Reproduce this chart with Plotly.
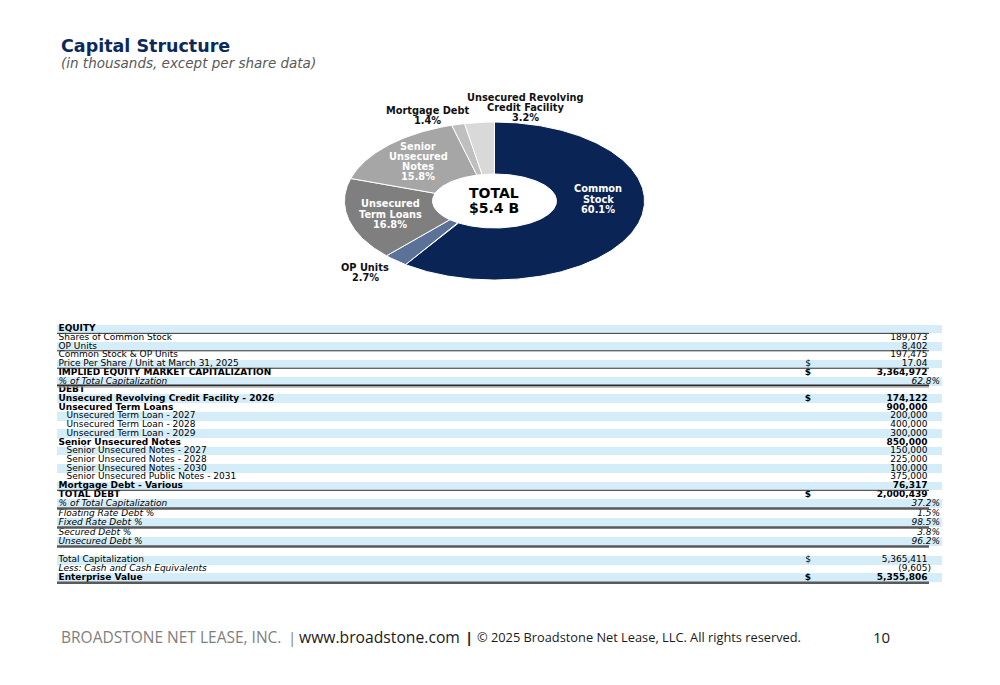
import numpy as np
import plotly.graph_objects as go

# ---------------- Pie data ----------------
slice_names = ["Common Stock", "OP Units", "Unsecured Term Loans",
               "Senior Unsecured Notes", "Mortgage Debt",
               "Unsecured Revolving Credit Facility"]
slice_pct = [60.1, 2.7, 16.8, 15.8, 1.4, 3.2]
slice_colors = ["#0a2456", "#5b7198", "#7f7f7f", "#a6a6a6", "#bfbfbf", "#d9d9d9"]
slice_label_lines = [["Common", "Stock"], ["OP Units"], ["Unsecured", "Term Loans"],
                     ["Senior", "Unsecured", "Notes"], ["Mortgage Debt"],
                     ["Unsecured Revolving", "Credit Facility"]]
center_text = ["TOTAL", "$5.4 B"]

# ---------------- Table data ----------------
row_labels = [
    "EQUITY",
    "Shares of Common Stock",
    "OP Units",
    "Common Stock & OP Units",
    "Price Per Share / Unit at March 31, 2025",
    "IMPLIED EQUITY MARKET CAPITALIZATION",
    "% of Total Capitalization",
    "DEBT",
    "Unsecured Revolving Credit Facility - 2026",
    "Unsecured Term Loans",
    "Unsecured Term Loan - 2027",
    "Unsecured Term Loan - 2028",
    "Unsecured Term Loan - 2029",
    "Senior Unsecured Notes",
    "Senior Unsecured Notes - 2027",
    "Senior Unsecured Notes - 2028",
    "Senior Unsecured Notes - 2030",
    "Senior Unsecured Public Notes - 2031",
    "Mortgage Debt - Various",
    "TOTAL DEBT",
    "% of Total Capitalization",
    "Floating Rate Debt %",
    "Fixed Rate Debt %",
    "Secured Debt %",
    "Unsecured Debt %",
    "",
    "Total Capitalization",
    "Less: Cash and Cash Equivalents",
    "Enterprise Value",
]
row_dollar = ["", "", "", "", "$", "$", "", "", "$", "", "", "", "", "", "", "", "",
              "", "", "$", "", "", "", "", "", "", "$", "", "$"]
row_values = ["", "189,073", "8,402", "197,475", "17.04", "3,364,972", "62.8%", "",
              "174,122", "900,000", "200,000", "400,000", "300,000", "850,000",
              "150,000", "225,000", "100,000", "375,000", "76,317", "2,000,439",
              "37.2%", "1.5%", "98.5%", "3.8%", "96.2%", "", "5,365,411", "(9,605)",
              "5,355,806"]
row_style = ["b", "n", "n", "n", "n", "b", "i", "b", "b", "b", "s", "s", "s", "b", "s",
             "s", "s", "s", "b", "b", "i", "i", "i", "i", "i", "n", "n", "i", "b"]
row_rule = ["thin", "", "thin", "", "thin", "", "double", "", "", "", "", "", "", "",
            "", "", "", "", "thin", "", "thick", "", "thick", "", "thick", "", "", "",
            "thick"]

# ---------------- Layout constants ----------------
W, H = 1000, 685
FONT = "DejaVu Sans"
NAVY = "#0b2a5b"
BAND = "#d4edf9"

fig = go.Figure()

# ---- Donut drawn on a pixel-scaled axis (elliptical like the slide) ----
cx, cy, RA, RB, ra, rb = 494.5, 201.0, 150.0, 79.0, 62.0, 27.0
fr = np.concatenate([[0.0], np.cumsum(slice_pct)]) / float(np.sum(slice_pct))
for i, name in enumerate(slice_names):
    n = max(int(400 * (fr[i + 1] - fr[i])), 4) + 2
    t = np.linspace(fr[i], fr[i + 1], n) * 2 * np.pi
    xo = cx + RA * np.sin(t)
    yo = cy - RB * np.cos(t)
    xi = cx + ra * np.sin(t[::-1])
    yi = cy - rb * np.cos(t[::-1])
    fig.add_trace(go.Scatter(
        x=np.r_[xo, xi, xo[:1]], y=np.r_[yo, yi, yo[:1]],
        mode="lines", fill="toself", fillcolor=slice_colors[i],
        line=dict(color="white", width=1), name=name,
        hoverinfo="text", text=f"{name}: {slice_pct[i]:.1f}%", showlegend=False))

# slice label placement (center x, block-center y, color)
label_pos = [(598, 199, "white"), (365, 272.5, "#111"), (390, 214, "white"),
             (418, 161.5, "white"), (427, 115.5, "#111"), (525, 107.5, "#111")]
LSTEP = 10.2
for lines, pct, (lx, lyc, col) in zip(slice_label_lines, slice_pct, label_pos):
    all_lines = lines + [f"{pct:.1f}%"]
    y0 = lyc - (len(all_lines) - 1) * LSTEP / 2
    for k, s in enumerate(all_lines):
        fig.add_annotation(x=lx, y=y0 + k * LSTEP, xref="x", yref="y", text=f"<b>{s}</b>",
                           showarrow=False, xanchor="center", yanchor="middle",
                           font=dict(family=FONT, size=9.8, color=col))
for k, s in enumerate(center_text):
    fig.add_annotation(x=494, y=193 + k * 14.5, xref="x", yref="y", text=f"<b>{s}</b>",
                       showarrow=False, xanchor="center", yanchor="middle",
                       font=dict(family=FONT, size=14, color="#000"))

# ---- Table ----
ROW_H = 8.72
GAP = 1.5
y = 329.0
row_y = []
for r in row_rule:
    row_y.append(y)
    y += ROW_H + (GAP if r == "thick" else 0)

TX0, TX1, LINE_X1 = 57, 942, 929
fig.add_trace(go.Bar(
    y=row_y, x=[TX1 - TX0] * len(row_y), base=TX0, orientation="h",
    width=ROW_H, marker=dict(color=[BAND if i % 2 == 0 else "rgba(0,0,0,0)"
                                    for i in range(len(row_y))], line=dict(width=0)),
    hoverinfo="skip", showlegend=False))

def fmt(s, st):
    if not s:
        return ""
    if st == "b":
        return f"<b>{s}</b>"
    if st == "i":
        return f"<i>{s}</i>"
    return s

TFS = 9
lab_x = [66.5 if st == "s" else 58.5 for st in row_style]
fig.add_trace(go.Scatter(
    x=lab_x, y=row_y, mode="text", text=[fmt(l, st) for l, st in zip(row_labels, row_style)],
    textposition="middle right", textfont=dict(family=FONT, size=TFS, color="#000"),
    hoverinfo="skip", showlegend=False))

fig.add_trace(go.Scatter(
    x=[808] * len(row_y), y=row_y, mode="text",
    text=[fmt(d, "b" if st == "b" else "n") for d, st in zip(row_dollar, row_style)],
    textposition="middle center", textfont=dict(family=FONT, size=TFS, color="#000"),
    hoverinfo="skip", showlegend=False))

val_x, val_t = [], []
for v, st in zip(row_values, row_style):
    if v.endswith("%"):
        val_x.append(940)
        val_t.append(fmt(v, "i"))
    elif v.endswith(")"):
        val_x.append(931)
        val_t.append(v)
    else:
        val_x.append(927.5)
        val_t.append(fmt(v, "b" if st == "b" else "n"))
fig.add_trace(go.Scatter(
    x=val_x, y=row_y, mode="text", text=val_t, textposition="middle left",
    textfont=dict(family=FONT, size=TFS, color="#000"), hoverinfo="skip", showlegend=False))

shapes = []
for yy, r in zip(row_y, row_rule):
    yb = yy + ROW_H / 2
    if r == "thin":
        shapes.append(dict(type="line", xref="x", yref="y", x0=TX0, x1=LINE_X1, y0=yb, y1=yb,
                           line=dict(color="#333333", width=1)))
    elif r == "double":
        shapes.append(dict(type="line", xref="x", yref="y", x0=TX0, x1=LINE_X1, y0=yb - 0.4,
                           y1=yb - 0.4, line=dict(color="#2b2b2b", width=1.5)))
        shapes.append(dict(type="line", xref="x", yref="y", x0=TX0, x1=LINE_X1, y0=yb + 1.1,
                           y1=yb + 1.1, line=dict(color="#8a8a8a", width=1.2)))
    elif r == "thick":
        yb2 = yb + GAP / 2
        shapes.append(dict(type="line", xref="x", yref="y", x0=TX0, x1=LINE_X1, y0=yb2, y1=yb2,
                           line=dict(color="#5a5a5a", width=2.5)))

# ---- Title, subtitle, footer ----
ann = [
    dict(x=59, y=46, text="<b>Capital Structure</b>",
         font=dict(family=FONT, size=17.5, color=NAVY)),
    dict(x=59, y=63, text="<i>(in thousands, except per share data)</i>",
         font=dict(family=FONT, size=13.5, color="#595959")),
    dict(x=59, y=637, text="BROADSTONE NET LEASE, INC.",
         font=dict(family="Open Sans", size=15.5, color="#7f7f7f")),
    dict(x=286, y=637, text="|",
         font=dict(family="Open Sans", size=15, color="#7f7f7f")),
    dict(x=297, y=637, text="www.broadstone.com",
         font=dict(family="Open Sans", size=15.7, color="#1a1a1a")),
    dict(x=463, y=637, text="<b>|</b>",
         font=dict(family="Open Sans", size=15, color="#1a1a1a")),
    dict(x=475, y=637, text="© 2025 Broadstone Net Lease, LLC. All rights reserved.",
         font=dict(family="Open Sans", size=12.8, color="#1a1a1a")),
    dict(x=871, y=637, text="10",
         font=dict(family="Open Sans", size=15, color="#1a1a1a")),
]
for a in ann:
    fig.add_annotation(xref="x", yref="y", showarrow=False, xanchor="left",
                       yanchor="middle", **a)

fig.update_layout(
    width=W, height=H, margin=dict(l=0, r=0, t=0, b=0),
    paper_bgcolor="white", plot_bgcolor="white", showlegend=False,
    shapes=shapes, bargap=0,
    xaxis=dict(range=[0, W], visible=False, fixedrange=True),
    yaxis=dict(range=[H, 0], visible=False, fixedrange=True),
)

fig.write_html("out.html", config={"displayModeBar": False},
               post_script="document.body.style.margin='0px';")
